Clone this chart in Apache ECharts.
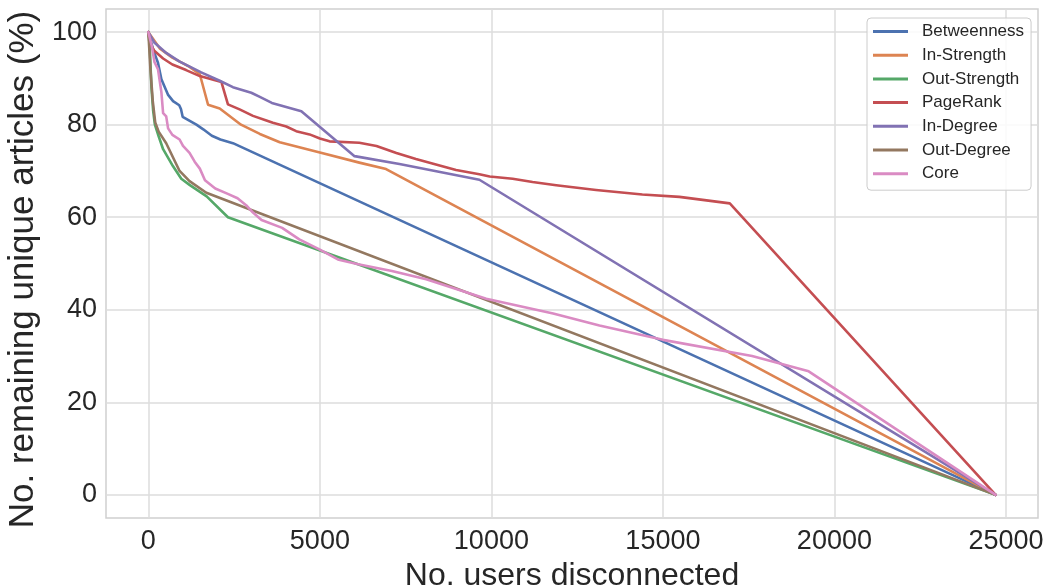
<!DOCTYPE html>
<html>
<head>
<meta charset="utf-8">
<title>Remaining unique articles vs. users disconnected</title>
<script src="https://cdn.jsdelivr.net/npm/echarts@6/dist/echarts.min.js"></script>
<style>
  html, body { margin: 0; padding: 0; background: #ffffff; }
  #chart { width: 1048px; height: 585px; }
</style>
</head>
<body>
<div id="chart"></div>
<script>
// Removal strategies, in plotting order
const seriesNames = ['Betweenness', 'In-Strength', 'Out-Strength', 'PageRank', 'In-Degree', 'Out-Degree', 'Core'];

// [users disconnected, remaining unique articles %]
const betweenness = [[0,100],[150,96],[280,93.4],[380,89.8],[570,86.5],[720,85.1],[900,84.2],[950,83.4],[1000,81.7],[1400,80.0],[1600,79.0],[1850,77.6],[2100,76.8],[2465,76.0],[24700,0]];
const inStrength = [[0,100],[330,96.5],[700,94.5],[1200,92.5],[1500,90.9],[1740,84.3],[2080,83.5],[2700,80.0],[3250,78.0],[3830,76.2],[5000,74.0],[6150,71.8],[6930,70.4],[24700,0]];
const outStrength = [[0,100],[40,97],[90,88],[140,83],[190,80],[300,77.5],[430,74.7],[720,71.0],[960,68.3],[1200,67.0],[1700,64.5],[2320,60.0],[24700,0]];
const pageRank = [[0,100],[50,97.5],[180,95.9],[430,94.3],[700,93.0],[1100,91.8],[1500,90.5],[2130,89.2],[2320,84.4],[2660,83.3],[3050,81.9],[3440,80.9],[3630,80.4],[4020,79.6],[4310,78.6],[4700,77.9],[5000,77.0],[5280,76.4],[6150,76.1],[6650,75.4],[7230,73.9],[7800,72.6],[8490,71.2],[8970,70.2],[9650,69.3],[9950,68.8],[10620,68.3],[11200,67.6],[11890,66.9],[13050,65.9],[14400,64.9],[15480,64.4],[16950,63.0],[24700,0]];
const inDegree = [[0,100],[180,97.7],[520,95.5],[900,93.7],[1250,92.4],[1540,91.3],[2080,89.5],[2465,88.1],[3000,86.9],[3250,86.0],[3600,84.7],[4460,82.9],[6010,73.2],[7320,71.5],[9650,68.1],[24700,0]];
const outDegree = [[0,100],[60,92],[130,85],[200,80.5],[300,78.5],[520,76.0],[720,72.9],[910,70.0],[1200,67.8],[1690,65.3],[24700,0]];
const core = [[0,100],[100,97],[180,93.5],[280,92],[380,87],[430,82.5],[520,81.8],[575,79.2],[700,77.8],[910,76.8],[1010,75.4],[1200,73.9],[1350,72.0],[1500,70.5],[1650,68.0],[1950,66.2],[2300,65.1],[2600,64.1],[2850,62.6],[3050,61.0],[3300,59.4],[3900,57.7],[4400,55.2],[5000,53.0],[5550,50.8],[6150,49.8],[7100,48.4],[8100,46.6],[9850,42.4],[11800,39.2],[13150,36.6],[15000,33.5],[17600,30.0],[19250,26.7],[24700,0]];

const seriesData = [betweenness, inStrength, outStrength, pageRank, inDegree, outDegree, core];
const seriesColors = ['#4C72B0', '#DD8452', '#55A868', '#C44E52', '#8172B3', '#937860', '#DA8BC3'];

// Axis ticks
const xTicks = [0, 5000, 10000, 15000, 20000, 25000];
const yTicks = [0, 20, 40, 60, 80, 100];

const FONT = '"Liberation Sans", Arial, sans-serif';
const TEXT = '#262626';
const GRID = '#dcdcdc';

const chart = echarts.init(document.getElementById('chart'), null, { renderer: 'canvas' });

chart.setOption({
  animation: false,
  backgroundColor: '#ffffff',
  color: seriesColors,
  grid: {
    left: 106, right: 10, top: 9, bottom: 67,
    outerBoundsMode: 'none',
    show: true, borderColor: '#d0d0d0', borderWidth: 1.5, backgroundColor: 'transparent'
  },
  legend: {
    orient: 'vertical',
    left: 867, top: 18,
    data: seriesNames,
    icon: 'rect',
    itemWidth: 35, itemHeight: 3,
    itemGap: 6.7,
    padding: [5, 7, 8, 6],
    backgroundColor: 'rgba(255,255,255,0.85)',
    borderColor: '#cccccc', borderWidth: 1, borderRadius: 4,
    textStyle: { fontFamily: FONT, fontSize: 17, color: TEXT, lineHeight: 17, padding: [0, 0, 0, 9] }
  },
  xAxis: {
    type: 'value',
    min: -1235, max: 25935,
    name: 'No. users disconnected',
    nameLocation: 'middle', nameGap: 32,
    nameTextStyle: { fontFamily: FONT, fontSize: 32, color: TEXT },
    axisLine: { show: false },
    axisTick: { show: false, customValues: xTicks },
    axisLabel: { customValues: xTicks, formatter: v => String(v), fontFamily: FONT, fontSize: 27, color: TEXT, margin: 10 },
    splitLine: { show: true, lineStyle: { color: GRID, width: 1.5 } }
  },
  yAxis: {
    type: 'value',
    min: -5, max: 105,
    name: 'No. remaining unique articles (%)',
    nameLocation: 'middle', nameGap: 64,
    nameTextStyle: { fontFamily: FONT, fontSize: 35, color: TEXT, padding: [0, 12, 0, 0] },
    axisLine: { show: false },
    axisTick: { show: false, customValues: yTicks },
    axisLabel: { customValues: yTicks, formatter: v => String(v), fontFamily: FONT, fontSize: 27, color: TEXT, margin: 9 },
    splitLine: { show: true, lineStyle: { color: GRID, width: 1.5 } }
  },
  series: seriesNames.map((name, i) => ({
    name: name,
    type: 'line',
    data: seriesData[i],
    showSymbol: false,
    symbol: 'none',
    lineStyle: { width: 2.6, color: seriesColors[i], join: 'round', cap: 'round' },
    itemStyle: { color: seriesColors[i] },
    emphasis: { disabled: true }
  }))
});
</script>
</body>
</html>
